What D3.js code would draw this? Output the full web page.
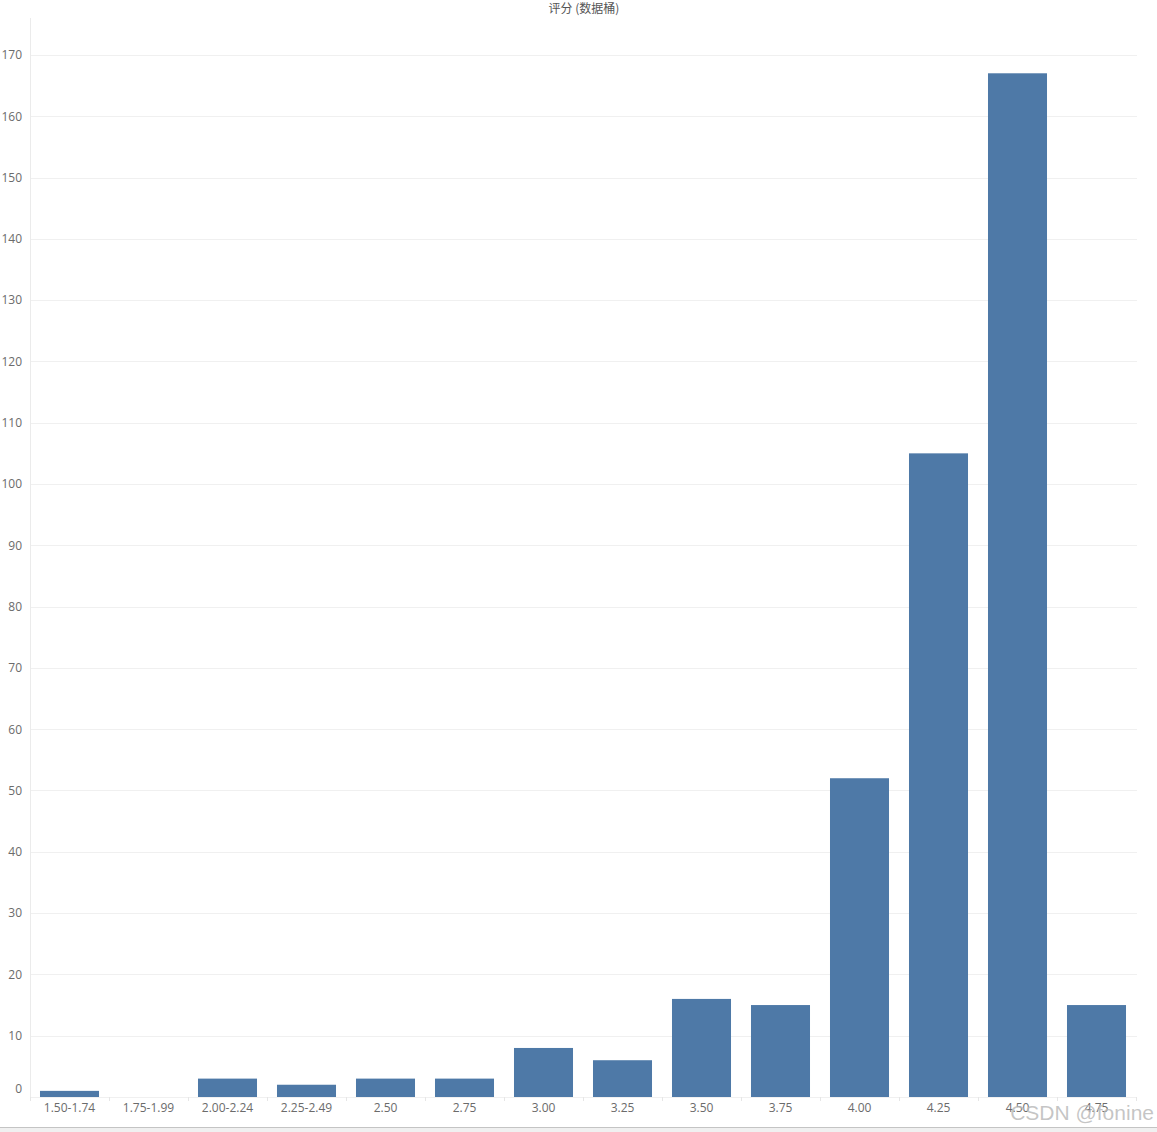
<!DOCTYPE html>
<html>
<head>
<meta charset="utf-8">
<script src="https://cdn.jsdelivr.net/npm/d3@7"></script>
<style>
  html, body { margin: 0; padding: 0; background: #fff; }
  svg { display: block; }
</style>
</head>
<body>
<script>
const categories = ["1.50-1.74","1.75-1.99","2.00-2.24","2.25-2.49","2.50","2.75","3.00","3.25","3.50","3.75","4.00","4.25","4.50","4.75"];
const counts = [1, 0, 3, 2, 3, 3, 8, 6, 16, 15, 52, 105, 167, 15];
const yTicks = [0,10,20,30,40,50,60,70,80,90,100,110,120,130,140,150,160,170];
const chartTitle = "评分 (数据桶)";
const watermark = "CSDN @fonine";

(function () {
const W = 1157, H = 1132;
const svg = d3.select("body").append("svg").attr("width", W).attr("height", H);

const pLeft = 30, pRight = 1136, pTop = 18, pBottom = 1097;
const labelFont = "'Open Sans', Lato, sans-serif";

const x = d3.scaleBand().domain(categories).range([pLeft, pRight])
  .paddingInner(0.253).paddingOuter(0.1265);
const y = d3.scaleLinear().domain([0, 170]).range([pBottom, pBottom - 170 * 6.13]);

// gridlines
svg.append("g").selectAll("line").data(yTicks).join("line")
  .attr("x1", pLeft).attr("x2", pRight + 1)
  .attr("y1", d => Math.round(y(d)) + 0.5).attr("y2", d => Math.round(y(d)) + 0.5)
  .attr("stroke", "#f0f0f0").attr("stroke-width", 1);

// y axis line
svg.append("line").attr("x1", pLeft + 0.5).attr("x2", pLeft + 0.5)
  .attr("y1", pTop).attr("y2", pBottom + 4)
  .attr("stroke", "#ebebeb");

// y axis labels
const yAxis = d3.axisLeft(y).tickValues(yTicks).tickSize(0).tickPadding(8);
const gy = svg.append("g").attr("transform", `translate(${pLeft},0)`).call(yAxis);
gy.select(".domain").remove();
gy.selectAll("text").attr("font-family", labelFont)
  .attr("font-size", 12).attr("fill", "#6b6b6b");
gy.selectAll(".tick").filter(d => d === 0).select("text").attr("y", -8);

// bars
svg.append("g").selectAll("rect").data(categories).join("rect")
  .attr("x", d => x(d))
  .attr("width", x.bandwidth())
  .attr("y", (d, i) => y(counts[i]))
  .attr("height", (d, i) => pBottom - y(counts[i]))
  .attr("fill", "#4e79a7");

// x axis baseline and ticks
svg.append("line").attr("x1", pLeft).attr("x2", pRight + 1)
  .attr("y1", pBottom + 0.5).attr("y2", pBottom + 0.5).attr("stroke", "#f0f0f0");
const step = x.step();
svg.append("g").selectAll("line").data(d3.range(categories.length + 1)).join("line")
  .attr("x1", i => Math.round(pLeft + i * step) + 0.5)
  .attr("x2", i => Math.round(pLeft + i * step) + 0.5)
  .attr("y1", pBottom).attr("y2", pBottom + 4)
  .attr("stroke", "#e6e6e6");

const xAxis = d3.axisBottom(x).tickSize(0).tickPadding(6);
const gx = svg.append("g").attr("transform", `translate(0,${pBottom})`).call(xAxis);
gx.select(".domain").remove();
gx.selectAll("text").attr("font-family", labelFont)
  .attr("font-size", 12).attr("fill", "#6b6b6b");

// title
svg.append("text").attr("x", 584).attr("y", 13).attr("text-anchor", "middle")
  .attr("font-family", "'Noto Sans CJK SC', sans-serif").attr("font-size", 12)
  .attr("fill", "#555").text(chartTitle);

// bottom bar
svg.append("rect").attr("x", 0).attr("y", 1127).attr("width", W).attr("height", 5).attr("fill", "#f0f0f0");
svg.append("line").attr("x1", 0).attr("x2", W).attr("y1", 1127.5).attr("y2", 1127.5).attr("stroke", "#c4c4c4");

// watermark
svg.append("text").attr("x", 1154).attr("y", 1120).attr("text-anchor", "end")
  .attr("font-family", "'Liberation Sans', Arial, sans-serif").attr("font-size", 21)
  .attr("fill", "#bbbbbb").attr("fill-opacity", 0.85).text(watermark);
})();
</script>
</body>
</html>
